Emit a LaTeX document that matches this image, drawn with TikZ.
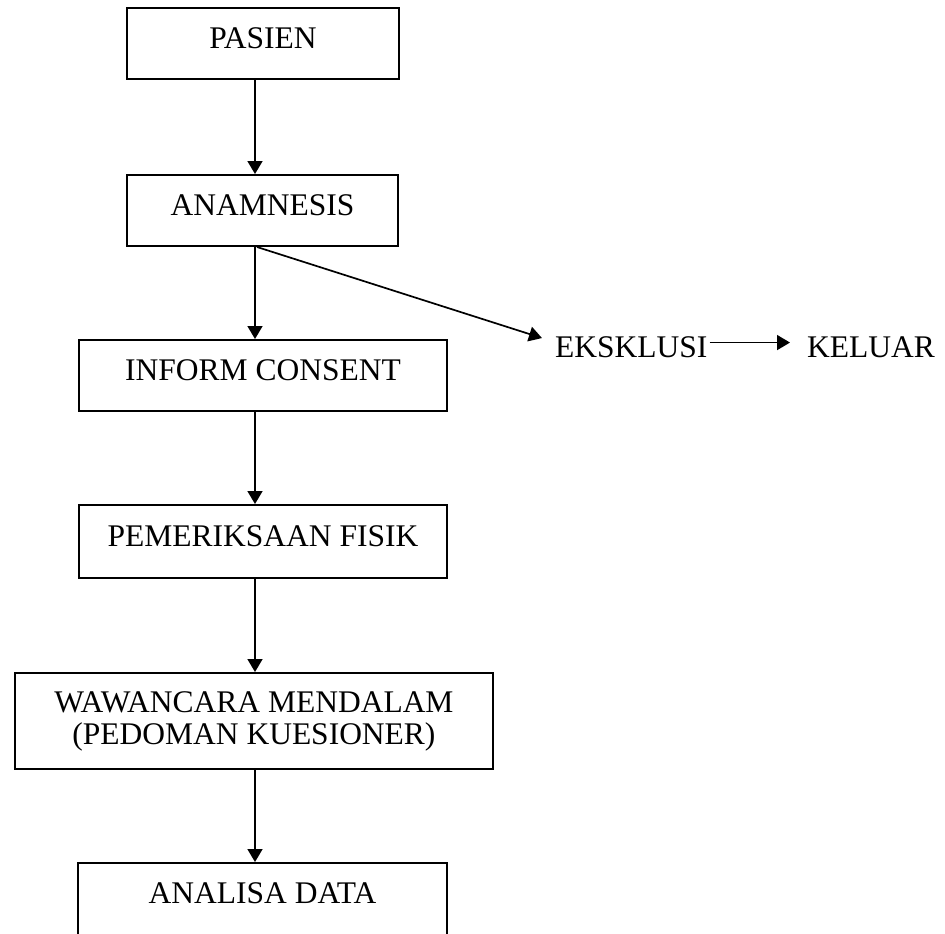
\documentclass[tikz,border=0pt]{standalone}
\usepackage{fontspec}
\setmainfont{Liberation Serif}
\usetikzlibrary{arrows.meta}

\tikzset{
  stage/.style={draw, line width=2pt, inner sep=0pt, align=center,
    text height=22pt, text depth=12.2pt},
  plain/.style={inner sep=0pt, anchor=base west, text height=20.9pt, text depth=0pt},
  flow/.style={line width=1.7pt, -{Triangle[length=13pt,width=15pt]}},
}

\begin{document}
\begin{tikzpicture}[x=1pt, y=-1pt, font=\fontsize{31.5}{31}\selectfont]
  \useasboundingbox (0,0) rectangle (945,934);
  \clip (0,0) rectangle (945,934);

  % main column of stages
  \node[stage, minimum width=272pt, minimum height=71pt] (pasien) at (263,43.5) {PASIEN};
  \node[stage, minimum width=271pt, minimum height=71pt] (anamnesis) at (262.5,210.5) {ANAMNESIS};
  \node[stage, minimum width=368pt, minimum height=71pt] (inform) at (263,375.5) {INFORM CONSENT};
  \node[stage, minimum width=368pt, minimum height=73pt] (fisik) at (263,541.5) {PEMERIKSAAN FISIK};
  \node[draw, line width=2pt, inner sep=0pt, align=center,
        minimum width=478pt, minimum height=96pt] (wawancara) at (254,721)
        {WAWANCARA MENDALAM\\[1pt](PEDOMAN KUESIONER)};
  % last stage runs past the lower edge of the page
  \node[stage, minimum width=369pt, minimum height=80pt,
        text depth=21.2pt] (analisa) at (262.5,903) {ANALISA DATA};

  % exclusion branch
  \node[plain] (eksklusi) at (555,357) {EKSKLUSI};
  \node[plain] (keluar) at (807,357) {KELUAR};

  % vertical spine of the flow
  \coordinate (spine) at (255,0);
  \coordinate (fork) at (257,0);

  \draw[flow] (pasien.south -| spine) -- (anamnesis.north -| spine);
  \draw[flow] (anamnesis.south -| spine) -- (inform.north -| spine);
  \draw[flow] (inform.south -| spine) -- (fisik.north -| spine);
  \draw[flow] (fisik.south -| spine) -- (wawancara.north -| spine);
  \draw[flow] (wawancara.south -| spine) -- (analisa.north -| spine);

  \draw[flow] (anamnesis.south -| fork) -- ([shift={(-13,-8.5)}]eksklusi.west);
  \draw[flow] ([xshift=2pt,yshift=4pt]eksklusi.east) -- ([xshift=-17pt,yshift=4pt]keluar.west);
\end{tikzpicture}
\end{document}
